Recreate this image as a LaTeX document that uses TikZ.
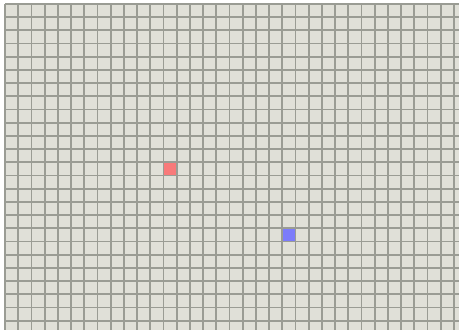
\documentclass[tikz,border=0pt]{standalone}
\definecolor{bgpaper}{HTML}{E0E0D8}
\definecolor{gridline}{HTML}{9A9C94}
\definecolor{redcell}{HTML}{F87A7A}
\definecolor{bluecell}{HTML}{7C7CFA}
\tikzset{
  gridrule/.style={draw=gridline, line width=1.8pt},
  cellmark/.style={draw=none, minimum size=12.6pt, inner sep=0pt, outer sep=0pt}
}
\begin{document}
\begin{tikzpicture}[x=1pt,y=-1pt]
\useasboundingbox (0,0) rectangle (461,331);
\fill[white] (0,0) rectangle (461,331);
\fill[bgpaper] (5,4) rectangle (459,330);
\node[cellmark, fill=redcell] (red) at (170,169) {};
\node[cellmark, fill=bluecell] (blue) at (288.8,235) {};
\begin{scope}
\clip (4,3) rectangle (459,330);
\foreach \k in {0,...,34} {
  \draw[gridrule] ({5+13.2*\k},4) -- ({5+13.2*\k},330);
}
\foreach \k in {0,...,24} {
  \draw[gridrule] (5,{4+13.2*\k}) -- (459,{4+13.2*\k});
}
\end{scope}
\end{tikzpicture}
\end{document}
